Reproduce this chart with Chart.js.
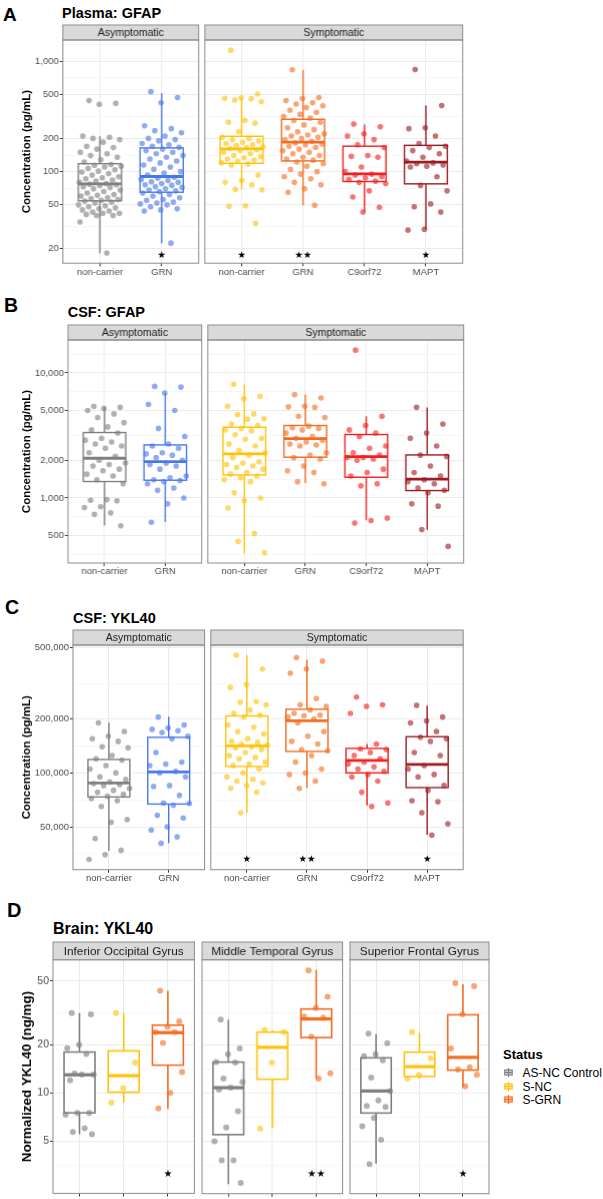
<!DOCTYPE html>
<html>
<head>
<meta charset="utf-8">
<script src="https://cdn.jsdelivr.net/npm/chart.js@4.4.1/dist/chart.umd.min.js"></script>
<style>
  body { margin: 0; background: #fff; width: 603px; height: 1199px; position: relative; overflow: hidden;
         font-family: 'Liberation Sans', Arial, Helvetica, sans-serif; }
  .lbl { position: absolute; line-height: 1; font-weight: bold; color: #000; white-space: nowrap; }
  .facet { position: absolute; }
  .leg { position: absolute; line-height: 1; white-space: nowrap; color: #000; }
</style>
</head>
<body>
<div class="lbl" style="left:3px;top:4.5px;font-size:19px">A</div>
<div class="lbl" style="left:62px;top:6px;font-size:14.5px">Plasma: GFAP</div>
<div class="lbl" style="left:4px;top:295.5px;font-size:19.5px">B</div>
<div class="lbl" style="left:67.7px;top:305px;font-size:14.5px">CSF: GFAP</div>
<div class="lbl" style="left:5px;top:597.5px;font-size:19.5px">C</div>
<div class="lbl" style="left:73px;top:611px;font-size:14.5px">CSF: YKL40</div>
<div class="lbl" style="left:7px;top:899.5px;font-size:20px">D</div>
<div class="lbl" style="left:53px;top:921px;font-size:16px">Brain: YKL40</div>

<script>
// ---- categories ----
const asymCats = ['non-carrier', 'GRN'];
const symCats = ['non-carrier', 'GRN', 'C9orf72', 'MAPT'];
const brainRegions = ['Inferior Occipital Gyrus', 'Middle Temporal Gyrus', 'Superior Frontal Gyrus'];
const brainStatus = ['AS-NC Control', 'S-NC', 'S-GRN'];

const asymColors = ['#7F7F7F', '#4878E8'];
const symColors = ['#FFC20A', '#F36C21', '#F51D1D', '#9E1B22'];
const brainColors = ['#7F7F7F', '#FFC20A', '#F36C21'];

// ---- A: plasma GFAP (pg/mL) ----
const plasmaTicks = [20, 50, 100, 200, 500, 1000];
const plasmaAsymPts = [
  [440, 415, 408, 210, 205, 200, 195, 185, 170, 165, 160, 150, 145, 140, 135, 128, 122, 116, 114, 112, 110, 107, 104, 101, 99, 96, 93, 90, 88, 86, 84, 82, 80, 78, 77, 76, 75, 73, 72, 70, 68, 66, 64, 62, 61, 60, 58, 57, 56, 55, 54, 53, 52, 50, 49, 48, 47, 46, 45, 44, 43, 42, 42, 41, 40, 40, 35, 18.3],
  [530, 470, 420, 260, 245, 235, 225, 210, 200, 195, 190, 180, 175, 170, 166, 160, 155, 150, 145, 140, 135, 130, 125, 120, 115, 110, 105, 100, 97, 93, 89, 87, 85, 83, 81, 80, 78, 76, 75, 73, 72, 70, 68, 67, 66, 64, 62, 60, 58, 56, 55, 53, 52, 51, 50, 48, 46, 45, 44, 22.5]
];
const plasmaSymPts = [
  [1260, 505, 466, 462, 458, 445, 430, 290, 280, 275, 230, 205, 200, 195, 190, 185, 180, 175, 172, 168, 165, 162, 158, 155, 150, 145, 140, 137, 134, 130, 127, 124, 120, 117, 115, 93, 83, 80, 76, 69, 68.5, 49, 48.5, 34],
  [836, 470, 460, 440, 420, 410, 395, 380, 360, 345, 330, 315, 305, 290, 280, 265, 250, 240, 230, 220, 215, 210, 205, 200, 195, 188, 182, 178, 175, 170, 165, 160, 155, 150, 145, 140, 135, 130, 127, 122, 118, 112, 105, 100, 95, 90, 86, 80, 76, 70, 65, 49.6],
  [270, 255, 220, 210, 195, 175, 165, 140, 138, 135, 110, 100, 95, 93, 90, 88, 85, 82, 80, 78, 67, 59, 47.6, 43],
  [840, 397, 250, 245, 210, 180, 170, 165, 155, 145, 135, 125, 120, 118, 115, 112, 110, 90, 75, 67, 51, 48, 43, 30, 29.5]
];
// [q1, median, q3, lower whisker, upper whisker]
const plasmaAsymBox = [[54.4, 77.5, 118, 18.2, 209], [65.1, 90.3, 164, 22.5, 513]];
const plasmaSymBox = [[119, 161, 209, 68.8, 466], [125, 185, 298, 49.6, 836], [81.4, 95.5, 170, 43.2, 267], [77.5, 122, 173, 29.9, 397]];
const plasmaAsymStars = ['', '★'];
const plasmaSymStars = ['★', '★★', '', '★'];
const plasmaStarAt = 17.4;

// ---- B: CSF GFAP (pg/mL) ----
const csfGfapTicks = [500, 1000, 2000, 5000, 10000];
const csfGfapAsymPts = [
  [5400, 5300, 5200, 5000, 4700, 4400, 4000, 3700, 3500, 3300, 3000, 2900, 2800, 2700, 2600, 2500, 2300, 2150, 2000, 1900, 1850, 1800, 1700, 1650, 1550, 1500, 1400, 1300, 970, 960, 950, 850, 840, 760, 740, 600],
  [7800, 7700, 6900, 5600, 5000, 3600, 3100, 2700, 2600, 2500, 2300, 2250, 2200, 2100, 2000, 1900, 1850, 1800, 1700, 1500, 1450, 1400, 1380, 1350, 1300, 1200, 1150, 1000, 900, 640]
];
const csfGfapSymPts = [
  [8100, 6500, 6200, 5400, 4700, 4650, 4300, 4250, 3900, 3800, 3600, 3500, 3450, 3200, 3000, 2950, 2700, 2600, 2400, 2300, 2200, 2100, 1950, 1900, 1850, 1800, 1750, 1700, 1600, 1550, 1500, 1450, 1400, 1350, 1100, 1000, 950, 830, 520, 450, 364],
  [6700, 6300, 5400, 5350, 5300, 4500, 4400, 3750, 3650, 3600, 3500, 3300, 3100, 3000, 2900, 2800, 2700, 2650, 2600, 2300, 2200, 2100, 2050, 1800, 1650, 1600, 1350, 1300],
  [15200, 4500, 3800, 3500, 3300, 3100, 2600, 2500, 2300, 2200, 2100, 2100, 2050, 2000, 1700, 1600, 1500, 1300, 1250, 690, 660, 630],
  [5300, 3900, 3300, 3000, 2600, 2200, 2150, 1800, 1600, 1500, 1400, 1350, 1300, 1200, 1150, 1100, 900, 860, 560, 410]
];
const csfGfapAsymBox = [[1353, 2078, 3335, 601, 5346], [1386, 1954, 2655, 643, 6918]];
const csfGfapSymBox = [[1528, 2248, 3680, 359, 8080], [2117, 2985, 3795, 1318, 6716], [1464, 2143, 3215, 663, 4505], [1146, 1412, 2208, 558, 5283]];

// ---- C: CSF YKL40 (pg/mL) ----
const csfYklTicks = [50000, 100000, 200000, 500000];
const csfYklAsymPts = [
  [190000, 170000, 160000, 155000, 150000, 140000, 138000, 125000, 120000, 118000, 110000, 105000, 100000, 95000, 92000, 89000, 87000, 86000, 85000, 82000, 80000, 78000, 76000, 74000, 72000, 70000, 65000, 55000, 53000, 43000, 37000, 35000, 32900],
  [205000, 185000, 178000, 175000, 172000, 168000, 160000, 155000, 130000, 115000, 112000, 110000, 102000, 100000, 95000, 85000, 84000, 75000, 68000, 67500, 66000, 58000, 56000, 50000, 48000, 44000, 40500]
];
const csfYklSymPts = [
  [453000, 380000, 310000, 300000, 250000, 248000, 240000, 225000, 215000, 210000, 205000, 185000, 180000, 170000, 165000, 155000, 150000, 148000, 145000, 143000, 140000, 138000, 135000, 130000, 125000, 122000, 120000, 115000, 112000, 110000, 105000, 100000, 95000, 92000, 90000, 88000, 85000, 82000, 78000, 60000],
  [440000, 420000, 380000, 360000, 260000, 240000, 235000, 225000, 215000, 210000, 208000, 205000, 200000, 190000, 170000, 160000, 150000, 145000, 135000, 133000, 125000, 115000, 105000, 100000, 98000, 90000, 82000],
  [265000, 240000, 235000, 215000, 145000, 136000, 135000, 130000, 125000, 120000, 115000, 112000, 108000, 105000, 102000, 98000, 95000, 90000, 78000, 68000, 65000],
  [238000, 205000, 195000, 190000, 170000, 158000, 155000, 150000, 130000, 125000, 110000, 105000, 98000, 95000, 85000, 80000, 70000, 69000, 60000, 52000, 45000]
];
const csfYklAsymBox = [[73400, 87900, 118900, 36760, 190700], [67000, 101300, 157900, 40550, 206000]];
const csfYklSymBox = [[108600, 141700, 208000, 59700, 452000], [131800, 195600, 226600, 82100, 428000], [100000, 117400, 137000, 65900, 144800], [82800, 111400, 159100, 45200, 237300]];
const csfYklSymStars = ['★', '★★', '', '★'];
const csfYklStarAt = 32700;

// ---- D: brain YKL40 (ng/mg), [region][status] ----
const brainTicks = [5, 10, 20, 50];
const brainPts = [
  [[31.5, 31, 20, 19, 17.5, 13.2, 13, 13, 12, 7.5, 7.5, 7.3, 6, 5.7, 5.5], [31.5, 15.5, 10.7, 8.7], [43.6, 28, 26, 24, 24, 20.5, 13.5, 10, 8]],
  [[28.8, 19, 17.5, 15.6, 15.5, 12.3, 11.7, 10.8, 10.5, 7.7, 6.1, 5.0, 3.8, 3.8, 2.74], [24.8, 24, 15.5, 6.0], [58.3, 40, 34, 30, 29.5, 22.5, 13.3, 12.3]],
  [[23.5, 20.5, 17.5, 17, 16, 12.5, 10.3, 9, 8.3, 8.2, 7, 6.2, 5.1, 3.6], [24, 16.5, 13, 12.3], [48.5, 46.5, 31, 19, 14.5, 14, 13, 11]]
];
const brainBox = [
  [[7.5, 12.97, 18.0, 5.51, 31.5], [10.1, 12.8, 18.3, 8.65, 31.5], [14.9, 23.8, 26.5, 7.94, 43.6]],
  [[5.5, 10.8, 15.6, 2.7, 28.8], [12.2, 19.3, 24, 6.03, 24.7], [22.2, 29, 33.5, 12.3, 58.7]],
  [[7.5, 10.3, 16.6, 3.62, 23.3], [12.7, 14.6, 18, 12.3, 23.8], [13.9, 16.7, 30.8, 10.9, 47.9]]
];
const brainStars = [['', '', '★'], ['', '', '★★'], ['', '', '★']];
const brainStarAt = 3.09;

// ---------------------------------------------------------------
const FONT = "'Liberation Sans', Arial, Helvetica, sans-serif";
Chart.defaults.font.family = FONT;

function rgba(hex, a) {
  const n = parseInt(hex.slice(1), 16);
  return `rgba(${n >> 16},${(n >> 8) & 255},${n & 255},${a})`;
}
// horizontal spread of the dots inside a category, like position_jitter
const jit = j => (((j * 0.618034 + 0.25) % 1) - 0.5) * 0.7;

// ggplot-like limits: data range on log scale, expanded 5% each side
function logLimits(groups) {
  const vals = groups.flat(Infinity);
  const a = Math.log10(Math.min(...vals)), b = Math.log10(Math.max(...vals));
  const p = (b - a) * 0.05;
  return [10 ** (a - p), 10 ** (b + p)];
}
// minor breaks: midpoints (in log space) between majors, one extra step each side
function minorBreaks(majors) {
  const L = majors.map(Math.log10);
  const ext = [2 * L[0] - L[1], ...L, 2 * L[L.length - 1] - L[L.length - 2]];
  const out = [];
  for (let i = 0; i < ext.length - 1; i++) out.push(10 ** ((ext[i] + ext[i + 1]) / 2));
  return out;
}

function decor(o) {
  return {
    id: 'decor',
    beforeDatasetsDraw(chart) {
      const { ctx, scales: { x, y } } = chart;
      ctx.save();
      o.box.forEach((b, i) => {
        const [q1, med, q3, lo, hi] = b;
        const xl = x.getPixelForValue(i - 0.35), xr = x.getPixelForValue(i + 0.35), xc = x.getPixelForValue(i);
        const y1 = y.getPixelForValue(q1), y3 = y.getPixelForValue(q3), ym = y.getPixelForValue(med);
        ctx.strokeStyle = o.colors[i];
        ctx.lineWidth = o.lw;
        ctx.beginPath();
        ctx.moveTo(xc, y3); ctx.lineTo(xc, y.getPixelForValue(hi));
        ctx.moveTo(xc, y1); ctx.lineTo(xc, y.getPixelForValue(lo));
        ctx.stroke();
        ctx.fillStyle = '#fff';
        ctx.fillRect(xl, y3, xr - xl, y1 - y3);
        ctx.strokeRect(xl, y3, xr - xl, y1 - y3);
        ctx.lineWidth = o.lw * 2;
        ctx.beginPath(); ctx.moveTo(xl, ym); ctx.lineTo(xr, ym); ctx.stroke();
      });
      ctx.restore();
    },
    afterDatasetsDraw(chart) {
      if (!o.stars) return;
      const { ctx, scales: { x, y } } = chart;
      ctx.save();
      ctx.font = `${o.starSize}px 'DejaVu Sans'`;
      ctx.textAlign = 'center';
      ctx.textBaseline = 'middle';
      ctx.fillStyle = '#000';
      o.stars.forEach((s, i) => { if (s) ctx.fillText(s, x.getPixelForValue(i), y.getPixelForValue(o.starAt)); });
      ctx.restore();
    },
    afterDraw(chart) {
      const { ctx, chartArea: a } = chart;
      const w = a.right - a.left;
      ctx.save();
      ctx.fillStyle = '#D9D9D9';
      ctx.fillRect(a.left, a.top - o.stripH, w, o.stripH);
      ctx.strokeStyle = '#8C8C8C';
      ctx.lineWidth = 1;
      ctx.strokeRect(a.left, a.top - o.stripH, w, o.stripH);
      ctx.strokeRect(a.left, a.top, w, a.bottom - a.top);
      ctx.fillStyle = '#1A1A1A';
      ctx.font = `${o.stripSize}px ${FONT}`;
      ctx.textAlign = 'center';
      ctx.textBaseline = 'middle';
      ctx.fillText(o.strip, a.left + w / 2, a.top - o.stripH / 2 + 0.5);
      ctx.restore();
    }
  };
}

function facet(o) {
  const padL = 1, padR = 2, padT = o.stripH + 1;
  const W = padL + o.yw + o.plotW + padR;
  const H = padT + o.plotH + o.xh;
  const wrap = document.createElement('div');
  wrap.className = 'facet';
  Object.assign(wrap.style, {
    left: (o.plotLeft - o.yw - padL) + 'px', top: (o.plotTop - padT) + 'px',
    width: W + 'px', height: H + 'px'
  });
  const cv = document.createElement('canvas');
  wrap.appendChild(cv);
  document.body.appendChild(wrap);

  const majors = o.majors.filter(v => v >= o.ylim[0] && v <= o.ylim[1]);
  const minors = minorBreaks(o.majors).filter(v => v > o.ylim[0] && v < o.ylim[1]);
  const yTicks = [...majors, ...minors].sort((p, q) => p - q);
  const isMajor = v => majors.some(m => Math.abs(m - v) / m < 1e-9);
  const first = o.yw > 0;
  const titleLh = o.yTitleSize * 1.2;

  new Chart(cv, {
    type: 'scatter',
    data: {
      datasets: o.cats.map((c, i) => ({
        label: c,
        data: o.pts[i].map((v, j) => ({ x: i + jit(j), y: v })),
        backgroundColor: rgba(o.colors[i], 0.62),
        borderWidth: 0,
        pointRadius: o.r,
        pointHoverRadius: o.r
      }))
    },
    options: {
      responsive: true,
      maintainAspectRatio: false,
      animation: false,
      events: [],
      layout: { padding: { left: padL, right: padR, top: padT, bottom: 0 } },
      plugins: { legend: { display: false }, tooltip: { enabled: false } },
      scales: {
        x: {
          type: 'linear', min: -0.6, max: o.cats.length - 0.4, bounds: 'data',
          afterBuildTicks: s => { s.ticks = o.cats.map((c, i) => ({ value: i })); },
          afterFit: s => { s.height = o.xh; },
          ticks: {
            display: o.showX, autoSkip: false, maxRotation: 0, padding: 0,
            color: '#4D4D4D', font: { size: o.tickSize },
            callback: v => o.cats[v] ?? ''
          },
          grid: { color: '#EBEBEB', lineWidth: 1, tickLength: 3, tickColor: '#333333', tickWidth: 1 },
          border: { display: false }
        },
        y: {
          type: 'logarithmic', min: o.ylim[0], max: o.ylim[1], bounds: 'data',
          afterBuildTicks: s => { s.ticks = yTicks.map(v => ({ value: v })); },
          afterFit: s => { s.width = o.yw; },
          ticks: {
            display: first, autoSkip: false, padding: 1,
            color: '#4D4D4D', font: { size: o.tickSize },
            callback: v => isMajor(v) ? v.toLocaleString('en-US') : ''
          },
          grid: {
            color: c => isMajor(c.tick.value) ? '#EBEBEB' : '#F2F2F2',
            lineWidth: c => isMajor(c.tick.value) ? 1 : 0.7,
            drawTicks: first, tickLength: 3,
            tickColor: c => isMajor(c.tick.value) ? '#333333' : 'rgba(0,0,0,0)'
          },
          border: { display: false },
          title: {
            display: first, text: o.yTitle, color: '#000',
            font: { size: o.yTitleSize, weight: 'bold' },
            padding: { top: 27 - padL - titleLh / 2, bottom: 0 }
          }
        }
      }
    },
    plugins: [decor(o)]
  });
}

// ---- panel A ----
const limA = logLimits([plasmaAsymPts, plasmaSymPts]);
const baseA = { plotTop: 39.5, plotH: 223.2, stripH: 15, xh: 16, tickSize: 9.5, stripSize: 10.5, r: 2.8, lw: 1.4,
  starSize: 9.5, yTitleSize: 11.5, yTitle: 'Concentration (pg/mL)', majors: plasmaTicks, ylim: limA, showX: true, starAt: plasmaStarAt };
facet({ ...baseA, plotLeft: 62.5, plotW: 136, yw: 61.5, cats: asymCats, pts: plasmaAsymPts, box: plasmaAsymBox,
  colors: asymColors, stars: plasmaAsymStars, strip: 'Asymptomatic' });
facet({ ...baseA, plotLeft: 203, plotW: 259.5, yw: 0, cats: symCats, pts: plasmaSymPts, box: plasmaSymBox,
  colors: symColors, stars: plasmaSymStars, strip: 'Symptomatic' });

// ---- panel B ----
const limB = logLimits([csfGfapAsymPts, csfGfapSymPts]);
const baseB = { ...baseA, plotTop: 340, plotH: 223, majors: csfGfapTicks, ylim: limB, stars: null };
facet({ ...baseB, plotLeft: 67.7, plotW: 133.8, yw: 66.7, cats: asymCats, pts: csfGfapAsymPts, box: csfGfapAsymBox,
  colors: asymColors, strip: 'Asymptomatic' });
facet({ ...baseB, plotLeft: 206, plotW: 257.5, yw: 0, cats: symCats, pts: csfGfapSymPts, box: csfGfapSymBox,
  colors: symColors, strip: 'Symptomatic' });

// ---- panel C ----
const limC = logLimits([csfYklAsymPts, csfYklSymPts]);
const baseC = { ...baseA, plotTop: 645.3, plotH: 223.7, majors: csfYklTicks, ylim: limC, starAt: csfYklStarAt };
facet({ ...baseC, plotLeft: 73, plotW: 132.4, yw: 72, cats: asymCats, pts: csfYklAsymPts, box: csfYklAsymBox,
  colors: asymColors, stars: null, strip: 'Asymptomatic' });
facet({ ...baseC, plotLeft: 209.2, plotW: 255, yw: 0, cats: symCats, pts: csfYklSymPts, box: csfYklSymBox,
  colors: symColors, stars: csfYklSymStars, strip: 'Symptomatic' });

// ---- panel D ----
const limD = logLimits(brainPts);
const dLefts = [53, 200.4, 348];
const dWidths = [142.4, 142.6, 142];
brainRegions.forEach((reg, k) => {
  facet({ plotTop: 960, plotH: 233, stripH: 17.7, xh: 7, tickSize: 10.5, stripSize: 11.8, r: 3, lw: 1.6,
    starSize: 10, yTitleSize: 13.4, yTitle: 'Normalized YKL40 (ng/mg)', majors: brainTicks, ylim: limD,
    showX: false, starAt: brainStarAt, plotLeft: dLefts[k], plotW: dWidths[k], yw: k === 0 ? 52 : 0,
    cats: brainStatus, pts: brainPts[k], box: brainBox[k], colors: brainColors, stars: brainStars[k], strip: reg });
});

// ---- legend for panel D ----
const legTitle = document.createElement('div');
legTitle.className = 'leg';
Object.assign(legTitle.style, { left: '503px', top: '1047.7px', fontSize: '13px', fontWeight: 'bold' });
legTitle.textContent = 'Status';
document.body.appendChild(legTitle);
brainStatus.forEach((s, k) => {
  const c = brainColors[k];
  const item = document.createElement('div');
  item.className = 'leg';
  Object.assign(item.style, { left: '503.5px', top: (1067 + k * 13.5) + 'px', fontSize: '12px' });
  item.innerHTML =
    `<svg width="9" height="9" style="position:absolute;left:0;top:1px" viewBox="0 0 9 9">
       <line x1="4.5" y1="0" x2="4.5" y2="9" stroke="${c}" stroke-width="1.2"/>
       <rect x="0.8" y="2" width="7.4" height="5" fill="${rgba(c, 0.25)}" stroke="${c}" stroke-width="1.2"/>
       <line x1="0.8" y1="4.5" x2="8.2" y2="4.5" stroke="${c}" stroke-width="1.4"/>
     </svg><span style="position:absolute;left:19px;top:0">${s}</span>`;
  document.body.appendChild(item);
});
</script>
</body>
</html>
